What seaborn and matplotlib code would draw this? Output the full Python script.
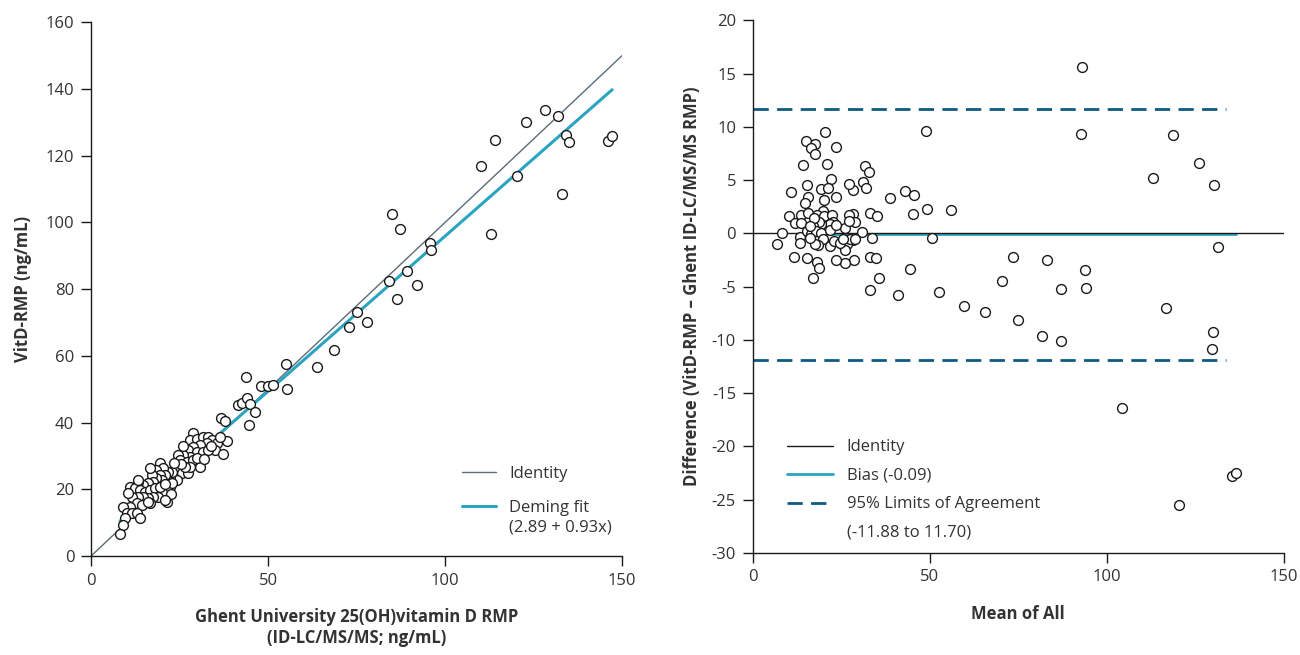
import numpy as np
import pandas as pd
import matplotlib
matplotlib.use("Agg")
import matplotlib.pyplot as plt
from matplotlib.lines import Line2D
import seaborn as sns

# left panel: Ghent RMP (x) vs VitD-RMP (y), ng/mL
ghent = [128.3, 123.0, 132.0, 114.2, 134.1, 134.9, 145.9, 147.2, 110.3, 120.3, 132.9,
         85.0, 87.4, 113.0, 95.7, 96.1, 89.2, 84.3, 92.0, 86.4, 75.0, 72.8, 78.0, 68.6,
         63.9, 55.0, 55.3, 43.8, 47.9, 49.9, 51.4, 41.5, 42.7, 44.1, 44.9, 46.2, 44.7,
         36.8, 37.8, 38.5,
         28.9, 28.0, 29.8, 31.7, 33.1, 34.1, 32.7, 30.8, 28.9, 27.5, 35.5, 35.0, 37.2,
         29.8, 31.7, 33.1, 30.8, 28.0, 26.1, 24.7, 25.1, 27.0, 28.9, 24.2, 25.6, 27.5,
         28.0, 26.6, 24.2, 22.3, 22.8, 21.8, 19.5, 20.4, 20.9, 18.5, 19.5, 20.0, 18.5,
         17.1, 16.7, 17.6, 16.2, 14.8, 13.4, 11.0, 12.4, 13.8, 15.3, 16.7, 18.1, 19.5,
         21.4, 19.0, 17.6, 16.2, 14.8, 13.4, 11.5, 10.5, 12.9, 14.3, 16.7, 11.0, 9.1,
         10.1, 11.5, 12.9, 13.8, 9.6, 9.1, 8.2, 22.3, 23.0, 25.5, 23.5, 21.0, 22.5,
         30.0, 32.0, 34.0, 36.5, 26.0, 13.4, 20.9, 16.2]
vitd = [133.8, 130.0, 132.0, 124.7, 126.3, 124.2, 124.5, 126.0, 116.8, 114.0, 108.5,
        102.4, 97.9, 96.6, 93.8, 91.7, 85.5, 82.4, 81.3, 77.2, 73.1, 68.7, 70.2, 61.9,
        56.8, 57.6, 50.1, 53.7, 50.9, 51.1, 51.2, 45.2, 46.0, 47.3, 45.5, 43.1, 39.3,
        41.3, 40.4, 34.4,
        36.8, 34.8, 35.0, 35.7, 35.6, 34.8, 33.8, 33.3, 32.8, 31.8, 34.0, 31.8, 30.6,
        31.3, 31.3, 31.8, 26.8, 29.8, 30.3, 30.3, 28.8, 28.3, 28.8, 25.8, 24.8, 24.8,
        26.8, 26.8, 22.8, 23.8, 25.3, 25.3, 27.8, 26.3, 24.3, 25.8, 24.3, 22.8, 23.3,
        24.3, 26.3, 22.3, 21.8, 21.3, 22.3, 20.8, 20.3, 19.8, 19.3, 19.8, 20.3, 20.8,
        16.3, 17.8, 17.8, 17.3, 17.8, 17.8, 17.8, 18.8, 15.8, 15.3, 15.8, 14.8, 14.8,
        12.8, 12.8, 12.8, 11.3, 11.3, 9.3, 6.6, 20.8, 22.0, 27.5, 28.0, 21.5, 18.5,
        29.5, 29.0, 33.0, 35.8, 33.0, 22.8, 16.8, 16.3]

# right panel: Bland-Altman, mean of all (x) vs difference (y)
mean_all = [93.1, 48.9, 92.7, 118.6, 126.2, 113.0, 130.4, 31.7, 32.9, 31.2, 32.0, 28.3,
            27.1, 38.8, 43.1, 45.7, 33.0, 35.1, 28.3, 28.9, 45.4, 49.2, 55.9, 30.8, 28.3,
            33.6, 50.6, 131.3, 28.5, 33.2, 34.7, 73.4, 83.1, 93.8, 44.5, 35.7, 70.5, 33.2,
            41.1, 52.6, 87.2, 94.1, 59.8, 65.6, 74.8, 116.7, 81.8, 87.0, 130.1, 129.6,
            104.4, 135.3, 136.4, 120.3,
            20.4, 15.0, 17.7, 16.5, 17.5, 23.6, 14.2, 21.1, 22.1, 15.3, 19.4, 21.2, 10.9,
            15.5, 14.8, 20.1, 23.5, 10.3, 11.9, 13.6, 13.6, 15.5, 19.8, 18.3, 20.1, 22.4,
            22.6, 21.8, 19.2, 18.7, 17.0, 17.3, 26.2, 27.1, 27.1, 8.3, 7.0, 13.3, 13.5,
            15.2, 16.6, 18.0, 19.4, 21.8, 19.9, 18.5, 17.5, 21.8, 23.1, 25.1, 26.5, 27.4,
            26.2, 26.0, 23.6, 11.8, 15.2, 18.2, 18.6, 17.1, 16.3, 23.6, 24.6, 25.5, 16.1,
            29.0]
diff = [15.6, 9.6, 9.35, 9.2, 6.6, 5.2, 4.5, 6.3, 5.8, 4.8, 4.3, 4.1,
        4.6, 3.3, 4.0, 3.6, 1.9, 1.6, 1.8, 1.1, 1.85, 2.3, 2.2, 0.1, -0.6,
        -0.4, -0.4, -1.3, -2.5, -2.25, -2.3, -2.2, -2.5, -3.4, -3.35, -4.2, -4.5, -5.3,
        -5.8, -5.5, -5.2, -5.1, -6.85, -7.4, -8.1, -7.0, -9.6, -10.1, -9.3, -10.85,
        -16.4, -22.8, -22.5, -25.5,
        9.5, 8.7, 8.4, 8.0, 7.4, 8.1, 6.4, 6.5, 5.1, 4.5, 4.2, 4.3, 3.9,
        3.4, 2.8, 3.1, 3.4, 1.6, 1.0, 1.7, 1.0, 1.9, 2.1, 1.7, 1.6, 1.7,
        1.1, 0.9, 0.9, 1.1, 0.7, 1.4, 0.5, 1.7, 1.2, 0.0, -1.0, -0.3, -0.9,
        0.25, -0.1, 0.25, 0.0, 0.3, -0.5, -1.1, -1.0, -1.15, -0.75, -1.0, -1.0, -0.5,
        -1.6, -2.8, -2.5, -2.25, -2.3, -2.7, -3.3, -4.2, 0.7, 0.8, -0.9, -0.5, -0.4,
        -0.5]

deming_intercept = 2.89
deming_slope = 0.93
bias = -0.09
loa_low, loa_high = -11.88, 11.70
loa_xmax = 133.6

left = pd.DataFrame({"ghent": ghent, "vitd": vitd})
right = pd.DataFrame({"mean": mean_all, "diff": diff})

sns.set_style("ticks")
plt.rcParams["font.family"] = ["Open Sans", "DejaVu Sans"]
plt.rcParams["axes.unicode_minus"] = False

txt = "#333333"
ident_col = "#5b6b78"
cyan = "#2ba4c2"
navy = "#0d5a84"

fig = plt.figure(figsize=(13, 6.55), dpi=100)
ax1 = fig.add_axes([0.070, 0.151, 0.4085, 0.815])
ax2 = fig.add_axes([0.579, 0.156, 0.4085, 0.813])

# ---- left panel
ident_x = np.array([0, 150])
ax1.plot(ident_x, ident_x, color=ident_col, lw=1, zorder=2, label="Identity")
fit_x = np.array([left["ghent"].min(), left["ghent"].max()])
ax1.plot(fit_x, deming_intercept + deming_slope * fit_x, color=cyan, lw=2.2, zorder=2,
         label="Deming fit")
sns.scatterplot(data=left, x="ghent", y="vitd", ax=ax1, s=50, marker="o",
                facecolor="white", edgecolor="#1a1a1a", linewidth=1, zorder=3)
ax1.set_xlim(0, 150)
ax1.set_ylim(0, 160)
ax1.set_xticks([0, 50, 100, 150])
ax1.set_yticks(range(0, 161, 20))
ax1.set_xlabel("Ghent University 25(OH)vitamin D RMP\n(ID-LC/MS/MS; ng/mL)",
               fontsize=12, fontweight="bold", color=txt, labelpad=14)
ax1.set_ylabel("VitD-RMP (ng/mL)", fontsize=12, fontweight="bold", color=txt, labelpad=10)
ax1.legend(loc="upper left", bbox_to_anchor=(0.671, 0.197), frameon=False,
           fontsize=12, handlelength=2.0, labelspacing=1.1, labelcolor=txt)
ax1.text(0.787, 0.054, "(2.89 + 0.93x)", transform=ax1.transAxes, fontsize=12,
         color=txt, va="center", ha="left")

# ---- right panel
ax2.axhline(0, color="#1a1a1a", lw=1, zorder=2)
bias_x = np.array([16, right["mean"].max()])
ax2.plot(bias_x, [bias, bias], color=cyan, lw=2, zorder=1)
loa_x = np.array([0, loa_xmax])
ax2.plot(loa_x, [loa_high, loa_high], color=navy, lw=2, dashes=(5.5, 3), zorder=2)
ax2.plot(loa_x, [loa_low, loa_low], color=navy, lw=2, dashes=(5.5, 3), zorder=2)
sns.scatterplot(data=right, x="mean", y="diff", ax=ax2, s=50, marker="o",
                facecolor="white", edgecolor="#1a1a1a", linewidth=1, zorder=3)
ax2.set_xlim(0, 150)
ax2.set_ylim(-30, 20)
ax2.set_xticks([0, 50, 100, 150])
ax2.set_yticks(range(-30, 21, 5))
ax2.set_xlabel("Mean of All", fontsize=12, fontweight="bold", color=txt, labelpad=14)
ax2.set_ylabel("Difference (VitD-RMP \u2013 Ghent ID-LC/MS/MS RMP)", fontsize=12,
               fontweight="bold", color=txt, labelpad=8)
handles = [Line2D([], [], color="#1a1a1a", lw=1),
           Line2D([], [], color=cyan, lw=2),
           Line2D([], [], color=navy, lw=2, dashes=(5.5, 3)),
           Line2D([], [], color="none")]
labels = ["Identity", "Bias (-0.09)", "95% Limits of Agreement", "(-11.88 to 11.70)"]
ax2.legend(handles, labels, loc="upper left", bbox_to_anchor=(0.036, 0.241),
           frameon=False, fontsize=12, handlelength=2.8, labelspacing=0.75,
           labelcolor=txt)

for ax in (ax1, ax2):
    sns.despine(ax=ax)
    ax.tick_params(direction="out", length=7, width=1, color="#1a1a1a",
                   labelsize=12, labelcolor=txt, pad=5)
    for sp in ("left", "bottom"):
        ax.spines[sp].set_color("#1a1a1a")
        ax.spines[sp].set_linewidth(1)

fig.savefig("out.png", dpi=100)
